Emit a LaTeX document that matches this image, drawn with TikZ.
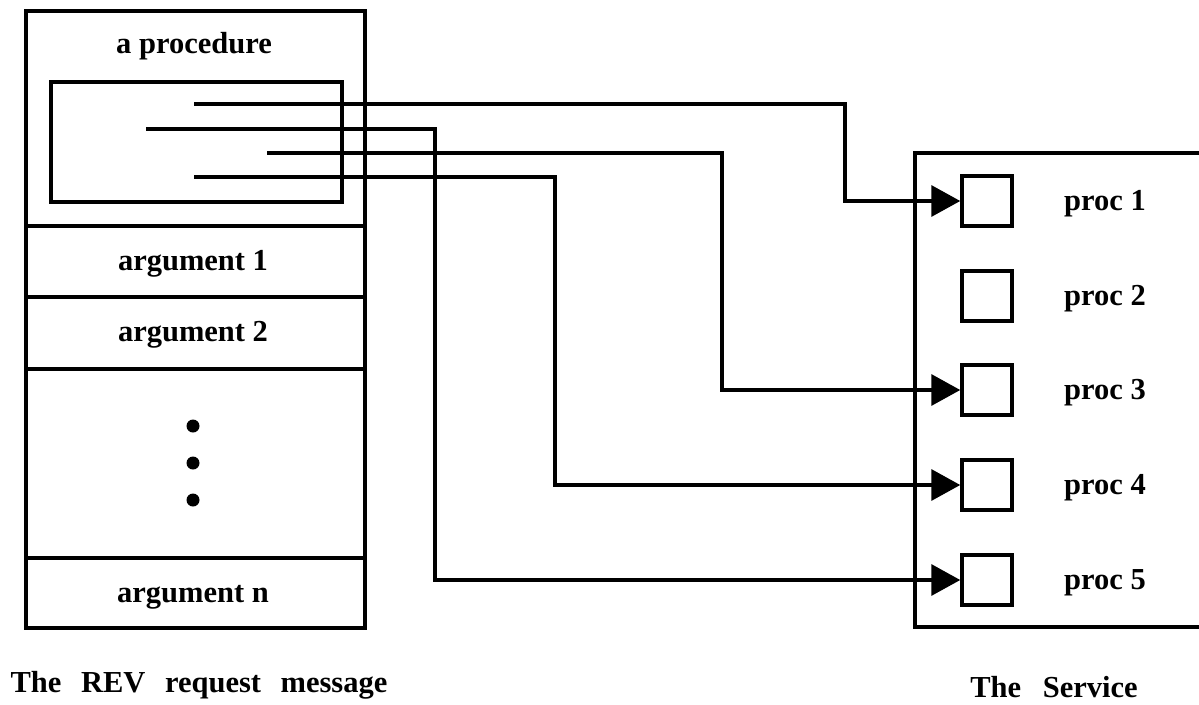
\documentclass[tikz,border=0pt]{standalone}
\usepackage{fontspec}
\setmainfont{Liberation Serif}
\usetikzlibrary{arrows.meta}
\begin{document}
\begin{tikzpicture}[x=1pt,y=-1pt,
  lw/.style={line width=3.5pt},
  sect/.style={draw,lw,inner sep=0pt,minimum width=339pt,anchor=north west},
  lbl/.style={inner sep=0pt,anchor=base,font=\fontsize{30.5}{36}\selectfont\bfseries},
  sq/.style={draw,lw,inner sep=0pt,minimum size=50pt},
  conn/.style={lw,-{Triangle[length=29pt,width=31pt]}},
  dotn/.style={circle,fill,inner sep=0pt,minimum size=13pt}]
\useasboundingbox (0,0) rectangle (1199,704);
% left message box
\node[sect,minimum height=215pt] (top) at (24,9) {};
\node[sect,minimum height=71pt] (a1) at (24,224) {};
\node[sect,minimum height=72pt] (a2) at (24,295) {};
\node[sect,minimum height=189pt] (dots) at (24,367) {};
\node[sect,minimum height=70pt] (an) at (24,556) {};
\node[draw,lw,inner sep=0pt,minimum width=291pt,minimum height=120pt,anchor=north west] (inner) at (49,80) {};
\node[lbl] (tproc) at (194,53) {a procedure};
\node[lbl] (ta1) at (193,270) {argument 1};
\node[lbl] (ta2) at (193,341) {argument 2};
\node[lbl] (tan) at (193,602) {argument n};
\node[dotn] (d1) at (193,426) {};
\node[dotn] (d2) at (193,463) {};
\node[dotn] (d3) at (193,500) {};
% service box
\draw[lw] (1210,153) -- (915,153) -- (915,627) -- (1210,627);
\node[sq] (p1) at (987,201) {};
\node[sq] (p2) at (987,296) {};
\node[sq] (p3) at (987,390) {};
\node[sq] (p4) at (987,485) {};
\node[sq] (p5) at (987,580) {};
\node[lbl] (l1) at (1105,210) {proc 1};
\node[lbl] (l2) at (1105,305) {proc 2};
\node[lbl] (l3) at (1105,399) {proc 3};
\node[lbl] (l4) at (1105,494) {proc 4};
\node[lbl] (l5) at (1105,589) {proc 5};
% captions
\node[lbl] (cap1) at (199,692) {The\hspace{12pt} REV\hspace{12pt} request\hspace{12pt} message};
\node[lbl] (cap2) at (1054,697) {The\hspace{14pt} Service};
% connectors
\coordinate (sA) at (194,104);
\coordinate (sB) at (146,129);
\coordinate (sC) at (267,153);
\coordinate (sD) at (194,177);
\draw[conn] (sA) -- ++(651,0) |- (p1.west);
\draw[conn] (sB) -- ++(289,0) |- (p5.west);
\draw[conn] (sC) -- ++(455,0) |- (p3.west);
\draw[conn] (sD) -- ++(361,0) |- (p4.west);
\end{tikzpicture}
\end{document}
